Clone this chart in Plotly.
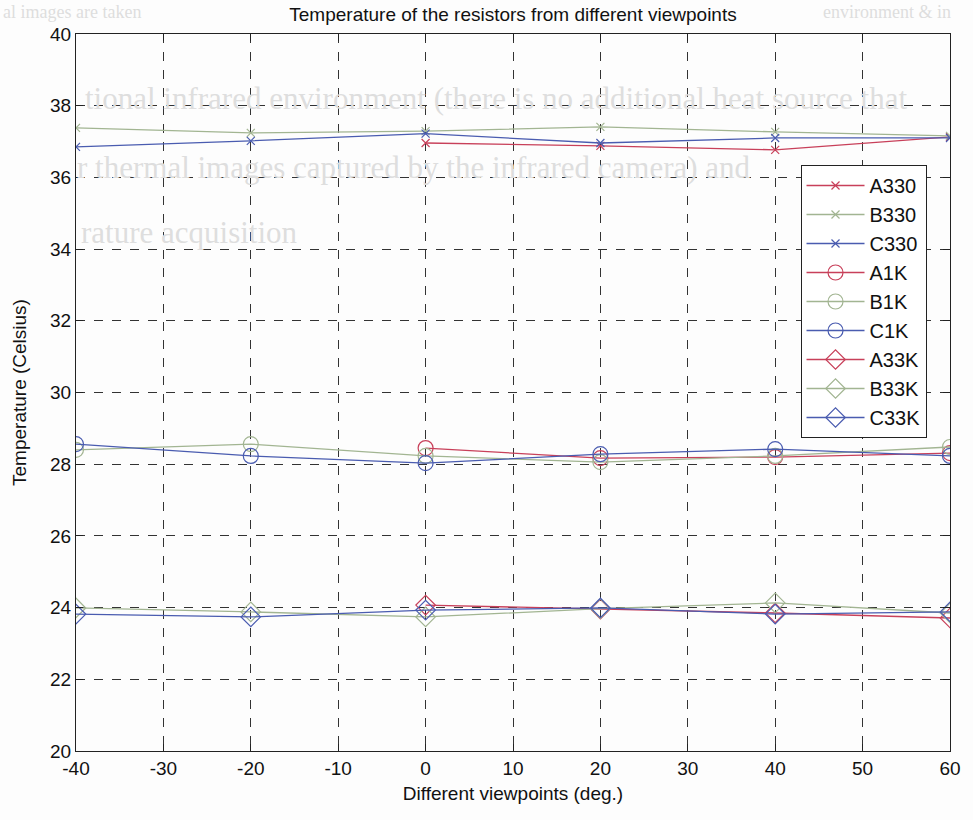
import plotly.graph_objects as go

# Viewpoint angles (deg.)
angles_bc = [-40, -20, 0, 20, 40, 60]
angles_a = [0, 20, 40, 60]

# Measured temperatures (Celsius)
a330 = [36.96, 36.88, 36.77, 37.13]
b330 = [37.38, 37.24, 37.29, 37.41, 37.27, 37.16]
c330 = [36.85, 37.02, 37.22, 36.96, 37.10, 37.10]

a1k = [28.45, 28.17, 28.20, 28.31]
b1k = [28.40, 28.56, 28.23, 28.06, 28.23, 28.48]
c1k = [28.56, 28.23, 28.03, 28.28, 28.42, 28.23]

a33k = [24.07, 23.96, 23.85, 23.71]
b33k = [23.99, 23.88, 23.74, 23.97, 24.13, 23.85]
c33k = [23.82, 23.74, 23.93, 23.99, 23.82, 23.88]

x_ticks = [-40, -30, -20, -10, 0, 10, 20, 30, 40, 50, 60]
y_ticks = [20, 22, 24, 26, 28, 30, 32, 34, 36, 38, 40]

RED = "#c8405a"
GREEN = "#a2b592"
BLUE = "#4a5cb0"

series = [
    ("A330", angles_a, a330, RED, "x-thin-open", 8),
    ("B330", angles_bc, b330, GREEN, "x-thin-open", 8),
    ("C330", angles_bc, c330, BLUE, "x-thin-open", 8),
    ("A1K", angles_a, a1k, RED, "circle-open", 15),
    ("B1K", angles_bc, b1k, GREEN, "circle-open", 15),
    ("C1K", angles_bc, c1k, BLUE, "circle-open", 15),
    ("A33K", angles_a, a33k, RED, "diamond-open", 15),
    ("B33K", angles_bc, b33k, GREEN, "diamond-open", 15),
    ("C33K", angles_bc, c33k, BLUE, "diamond-open", 15),
]

W, H = 973, 820
ML, MR, MT, MB = 76, 20, 34, 69
pw, ph = W - ML - MR, H - MT - MB

fig = go.Figure()
for name, xs, ys, col, sym, size in series:
    fig.add_trace(go.Scatter(
        x=xs, y=ys, name=name, mode="lines+markers",
        line=dict(color=col, width=1.3),
        marker=dict(symbol=sym, size=size, color=col, line=dict(color=col, width=1.2)),
    ))

# faint page text showing through behind the figure (figure pixel positions)
page_lines = [
    (2, 1, "left", "top", 18, "al images are taken"),
    (955, 1, "right", "top", 18, "environment & in"),
    (84, 98, "left", "middle", 31, "tional infrared environment (there is no additional heat source that"),
    (76, 167, "left", "middle", 31, "r thermal images captured by the infrared camera) and"),
    (80, 232, "left", "middle", 31, "rature acquisition"),
]
for px, py, xa, ya, fsize, txt in page_lines:
    fig.add_annotation(
        x=(px - ML) / pw, y=(H - MB - py) / ph, xref="paper", yref="paper",
        xanchor=xa, yanchor=ya, text=txt, showarrow=False, borderpad=0,
        font=dict(family="Liberation Serif, serif", size=fsize, color="#dedede"),
    )

axis_font = dict(family="Liberation Sans Narrow, Arial Narrow, Liberation Sans, sans-serif",
                 size=19, color="#111111")

fig.update_layout(
    width=W, height=H,
    margin=dict(l=ML, r=MR, t=MT, b=MB),
    paper_bgcolor="#fdfdfd", plot_bgcolor="rgba(0,0,0,0)",
    title=dict(text="Temperature of the resistors from different viewpoints",
               x=0.5, xref="paper", xanchor="center", y=1 - 14 / H, yanchor="middle",
               font=dict(family="Liberation Sans Narrow, Arial Narrow, sans-serif",
                         size=19, color="#111111")),
    showlegend=True,
    legend=dict(
        x=(803 - ML) / pw, y=(H - MB - 165) / ph, xref="paper", yref="paper",
        xanchor="left", yanchor="top",
        bgcolor="#ffffff", bordercolor="#222222", borderwidth=1,
        font=dict(family="Liberation Sans, Arial, sans-serif", size=20, color="#111111"),
        tracegroupgap=0, itemwidth=58,
    ),
)

fig.update_xaxes(
    range=[-40, 60], tickvals=x_ticks, ticktext=[str(v) for v in x_ticks],
    showline=True, linecolor="#222222", linewidth=1.2, mirror="ticks",
    ticks="inside", ticklen=7, tickcolor="#222222",
    showgrid=True, gridcolor="#333333", griddash="dash", gridwidth=1,
    zeroline=False, tickfont=axis_font,
    title=dict(text="Different viewpoints (deg.)", font=axis_font, standoff=8),
)
fig.update_yaxes(
    range=[20, 40], tickvals=y_ticks, ticktext=[str(v) for v in y_ticks],
    showline=True, linecolor="#222222", linewidth=1.2, mirror="ticks",
    ticks="inside", ticklen=7, tickcolor="#222222",
    showgrid=True, gridcolor="#333333", griddash="dash", gridwidth=1,
    zeroline=False, tickfont=axis_font,
    title=dict(text="Temperature (Celsius)", font=axis_font, standoff=18),
)

fig.write_html("out.html")
